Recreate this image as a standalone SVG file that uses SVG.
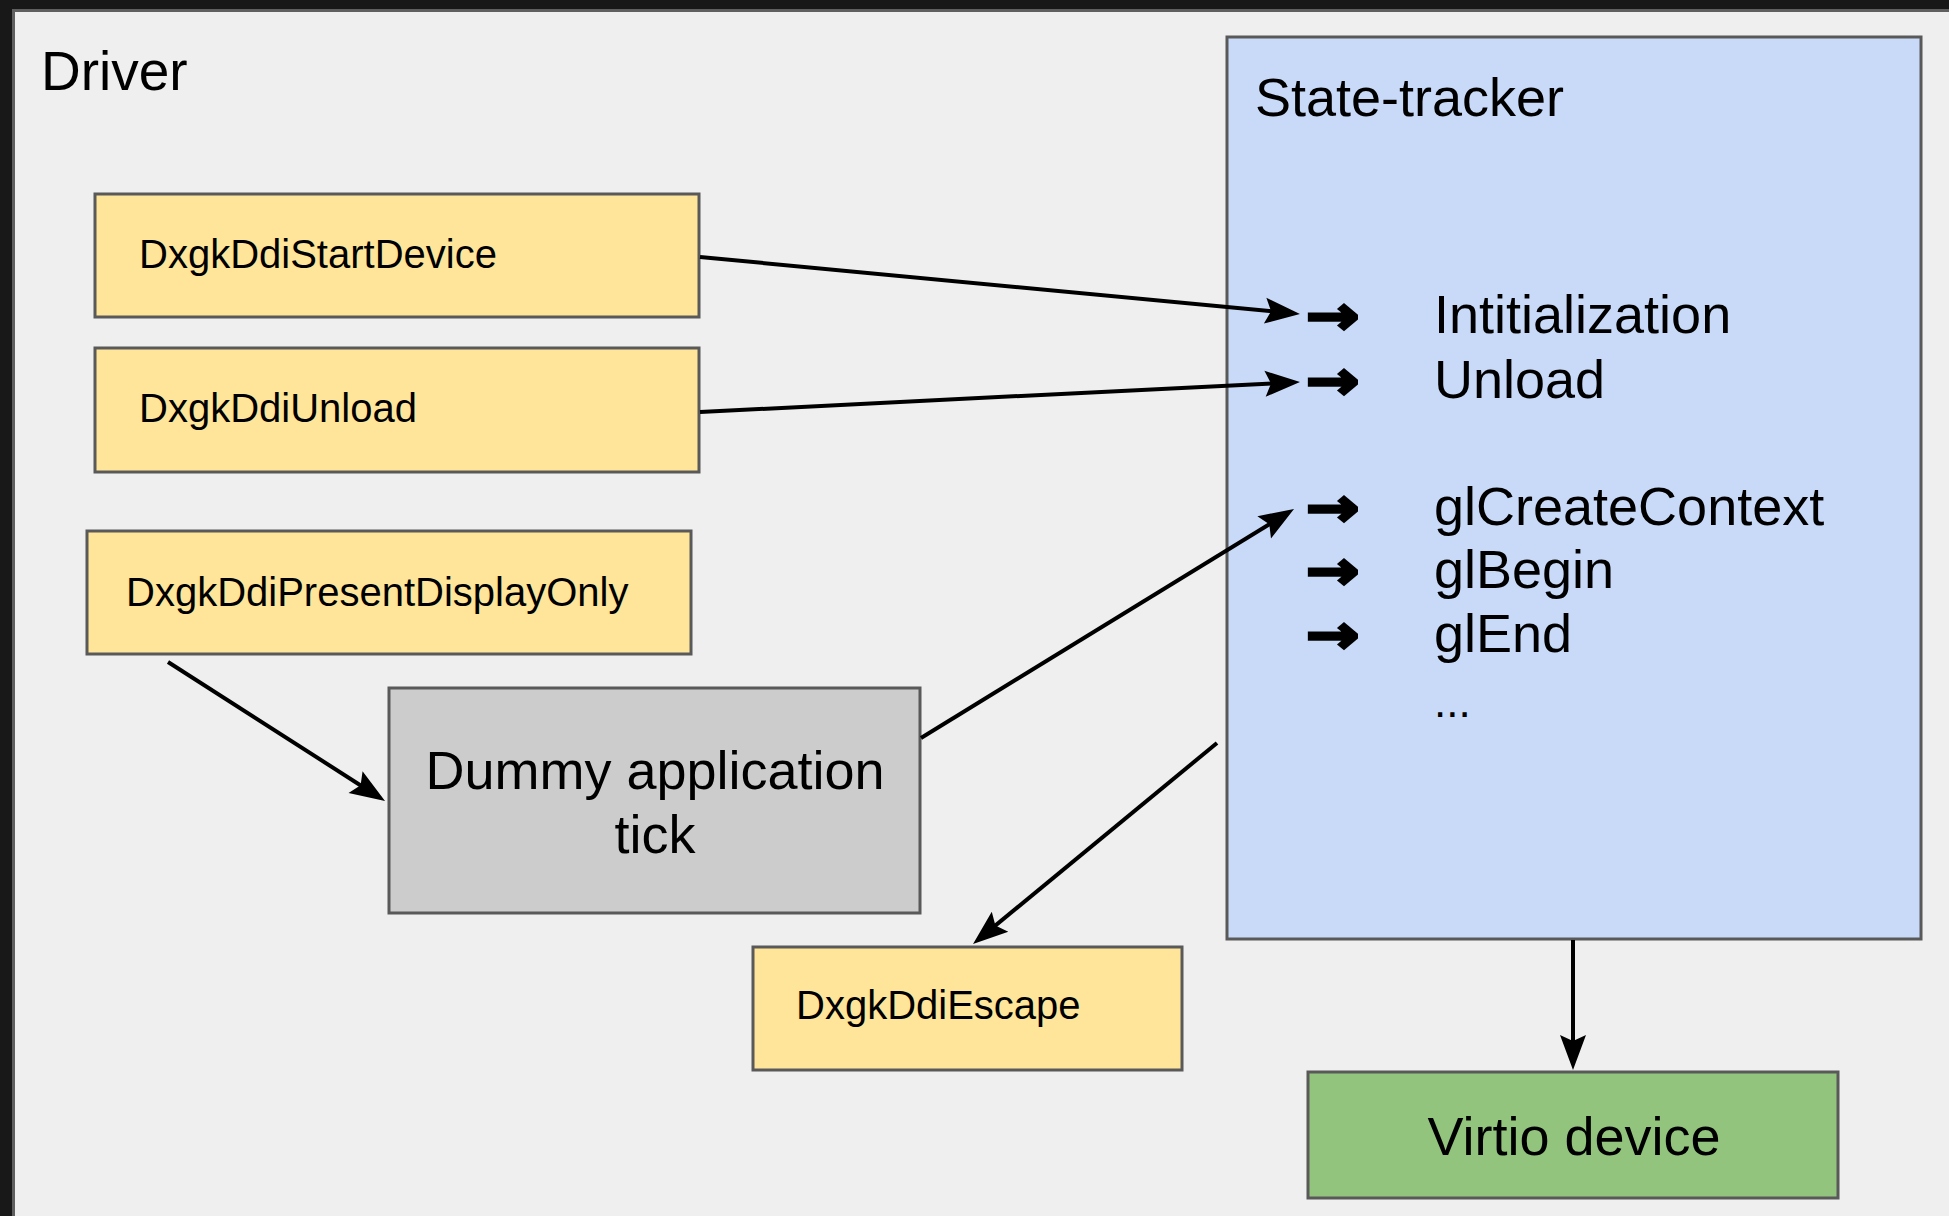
<svg xmlns="http://www.w3.org/2000/svg" width="1949" height="1216" viewBox="0 0 1949 1216">
  <style>
    .txt { font-family: "Liberation Sans", Arial, sans-serif; fill: #000; }
    .box { stroke: #595959; stroke-width: 3; }
    .yellow { fill: #ffe599; }
    .gray { fill: #cccccc; }
    .blue { fill: #c9daf8; }
    .green { fill: #93c47d; }
    .conn { stroke: #000; stroke-width: 4; fill: none; marker-end: url(#head); }
    .bullet { font-family: "DejaVu Sans", sans-serif; font-weight: bold; font-size: 53px; fill: #000; stroke: #000; stroke-width: 3; stroke-linejoin: miter; }
  </style>
  <defs>
    <marker id="head" markerUnits="userSpaceOnUse" orient="auto" markerWidth="60" markerHeight="60" refX="0" refY="0" viewBox="-30 -30 60 60" overflow="visible">
      <path d="M8,0 L-27,-13 L-21,0 L-27,13 Z" fill="#000"/>
    </marker>
  </defs>

  <!-- window frame and slide -->
  <rect x="0" y="0" width="1949" height="1216" fill="#181818"/>
  <rect x="13.5" y="10.5" width="1960" height="1230" fill="#efefef" stroke="#5f5f5f" stroke-width="3"/>

  <text class="txt" x="41" y="90" font-size="55">Driver</text>

  <!-- state tracker container -->
  <g id="state-tracker">
    <rect class="box blue" x="1227" y="37" width="694" height="902"/>
    <text class="txt" x="1255" y="116" font-size="54">State-tracker</text>
    <!-- list bullets, widened a little -->
    <text class="bullet" transform="translate(1306,334) scale(1.2,1)">→</text>
    <text class="bullet" transform="translate(1306,399) scale(1.2,1)">→</text>
    <text class="bullet" transform="translate(1306,526) scale(1.2,1)">→</text>
    <text class="bullet" transform="translate(1306,589) scale(1.2,1)">→</text>
    <text class="bullet" transform="translate(1306,653) scale(1.2,1)">→</text>
    <g font-size="54">
      <text class="txt" x="1434" y="333">Intitialization</text>
      <text class="txt" x="1434" y="398">Unload</text>
      <text class="txt" x="1434" y="525">glCreateContext</text>
      <text class="txt" x="1434" y="588">glBegin</text>
      <text class="txt" x="1434" y="652">glEnd</text>
      <text class="txt" x="1434" y="717" font-size="44">...</text>
    </g>
  </g>

  <g id="start-device">
    <rect class="box yellow" x="95" y="194" width="604" height="123"/>
    <text class="txt" x="139" y="268" font-size="40">DxgkDdiStartDevice</text>
  </g>

  <g id="unload">
    <rect class="box yellow" x="95" y="348" width="604" height="124"/>
    <text class="txt" x="139" y="422" font-size="40">DxgkDdiUnload</text>
  </g>

  <g id="present-display-only">
    <rect class="box yellow" x="87" y="531" width="604" height="123"/>
    <text class="txt" x="126" y="606" font-size="40">DxgkDdiPresentDisplayOnly</text>
  </g>

  <g id="dummy-app">
    <rect class="box gray" x="389" y="688" width="531" height="225"/>
    <text class="txt" x="655" y="789" font-size="54" text-anchor="middle">Dummy application</text>
    <text class="txt" x="655" y="853" font-size="54" text-anchor="middle">tick</text>
  </g>

  <g id="escape">
    <rect class="box yellow" x="753" y="947" width="429" height="123"/>
    <text class="txt" x="796" y="1019" font-size="40">DxgkDdiEscape</text>
  </g>

  <g id="virtio">
    <rect class="box green" x="1308" y="1072" width="530" height="126"/>
    <text class="txt" x="1574" y="1155" font-size="54" text-anchor="middle">Virtio device</text>
  </g>

  <!-- connectors -->
  <g id="connectors">
    <line class="conn" x1="700" y1="257" x2="1292" y2="313.2"/>
    <line class="conn" x1="700" y1="412" x2="1292" y2="382.4"/>
    <line class="conn" x1="921" y1="738" x2="1287.2" y2="513.2"/>
    <line class="conn" x1="1217" y1="743" x2="979.2" y2="938.9"/>
    <line class="conn" x1="168" y1="662" x2="378.3" y2="796.7"/>
    <line class="conn" x1="1573" y1="940" x2="1573" y2="1062"/>
  </g>
</svg>
